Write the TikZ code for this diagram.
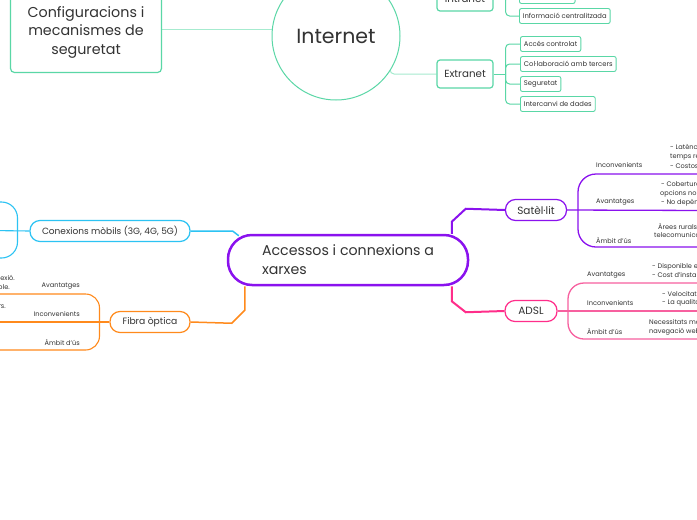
\documentclass[tikz,border=0pt]{standalone}
\usepackage{fontspec}
\setmainfont{Poppins}
\usetikzlibrary{backgrounds}
\definecolor{mint}{HTML}{5AD7A6}
\definecolor{mintl}{HTML}{A6EBCF}
\definecolor{purp}{HTML}{8A12EE}
\definecolor{pinkc}{HTML}{FF2E8A}
\definecolor{pinkl}{HTML}{F7609F}
\definecolor{orng}{HTML}{FF8A1C}
\definecolor{cyn}{HTML}{2CC3F3}
\definecolor{txt}{HTML}{333333}
\tikzset{
  every node/.style={text=txt},
  sbox/.style={draw=mint, line width=0.9pt, rounded corners=2pt, fill=white, font=\fontsize{6.8}{8}\selectfont, inner xsep=3.5pt, minimum height=15pt, anchor=west},
  mbox/.style={draw=mint, line width=1.2pt, rounded corners=3pt, fill=white, minimum width=56pt, minimum height=28pt, font=\fontsize{10.3}{12}\selectfont},
  pill/.style={rectangle, rounded corners=10pt, minimum height=21pt, line width=1.2pt, fill=white, font=\fontsize{10.5}{12}\selectfont, inner xsep=0pt},
  lbl/.style={font=\fontsize{6.6}{8}\selectfont, inner sep=0pt},
  gline/.style={draw=mint, line width=1pt, rounded corners=4pt},
  conn/.style={draw=mintl, line width=1pt},
}
\begin{document}
\begin{tikzpicture}[x=1pt,y=-1pt]
\useasboundingbox (0,0) rectangle (697,520);
\clip (0,0) rectangle (697,520);

% ---- Internet part ----
\node[draw=mint, line width=1.2pt, rounded corners=4pt, fill=white, minimum width=151pt, minimum height=81pt, align=center, font=\fontsize{14.3}{18.5}\selectfont] (cfg) at (86,32) {Configuracions i\\mecanismes de\\seguretat};
\node[circle, draw=mint, line width=1pt, fill=white, minimum size=128pt, font=\fontsize{20.5}{24}\selectfont] (internet) at (336,36) {Internet};
\node[mbox, minimum height=24pt] (intranet) at (465,-1) {Intranet};
\node[mbox] (extranet) at (465,74) {Extranet};

\node[sbox] (in2) at (519,-4) {Seguretat alta};
\node[sbox] (in3) at (519,16) {Informació centralitzada};

\node[sbox] (ex1) at (520,44) {Accés controlat};
\node[sbox] (ex2) at (520,64) {Col·laboració amb tercers};
\node[sbox] (ex3) at (520,84) {Seguretat};
\node[sbox] (ex4) at (520,104) {Intercanvi de dades};

% ---- central ----
\node[draw=purp, line width=2.5pt, fill=white, rounded corners=24pt, minimum width=240pt, minimum height=50pt, align=left, font=\fontsize{14.2}{19}\selectfont] (central) at (348,260) {Accessos i connexions a\\xarxes};

\node[pill, draw=purp, minimum width=61pt] (sat) at (536,210) {Satèl·lit};
\node[pill, draw=pinkc, minimum width=52pt] (adsl) at (531,311) {ADSL};
\node[pill, draw=cyn, minimum width=160pt, font=\fontsize{9}{11}\selectfont] (mob) at (110,231) {Conexions mòbils (3G, 4G, 5G)};
\node[pill, draw=orng, minimum width=80pt, font=\fontsize{9.2}{11}\selectfont] (fib) at (150,322) {Fibra òptica};

% ---- Satel.lit details ----
\node[lbl, anchor=west] at (596,165.5) {Inconvenients};
\node[lbl, anchor=west] at (596,202.5) {Avantatges};
\node[lbl, anchor=west] at (596,240) {Àmbit d'ús};
\node[lbl, anchor=west] at (670,147.5) {- Latència elevada, no apta per a};
\node[lbl, anchor=west] at (670,157) {temps real.};
\node[lbl, anchor=west] at (670,166) {- Costos elevats.};
\node[lbl, anchor=west] at (661,184.5) {- Cobertura global, fins i tot sense};
\node[lbl, anchor=west] at (660,193.5) {opcions no satel·litàries.};
\node[lbl, anchor=west] at (661,203) {- No depèn d'infraestructura terrestre.};
\node[lbl, anchor=west] at (658,226) {Àrees rurals o remotes sense};
\node[lbl, anchor=west] at (654,235.5) {telecomunicacions.};

% ---- ADSL details ----
\node[lbl, anchor=west] at (587,275) {Avantatges};
\node[lbl, anchor=west] at (587,303) {Inconvenients};
\node[lbl, anchor=west] at (587,331) {Àmbit d'ús};
\node[lbl, anchor=west] at (652,266.5) {- Disponible en moltes zones.};
\node[lbl, anchor=west] at (652,275) {- Cost d'instal·lació baix.};
\node[lbl, anchor=west] at (662,294) {- Velocitat limitada.};
\node[lbl, anchor=west] at (662,303) {- La qualitat depèn de la distància.};
\node[lbl, anchor=west] at (649,322.5) {Necessitats moderades com la};
\node[lbl, anchor=west] at (649,331.5) {navegació web i el correu.};

% ---- Fibra details ----
\node[lbl, anchor=east] at (80,286.5) {Avantatges};
\node[lbl, anchor=east] at (80,314.5) {Inconvenients};
\node[lbl, anchor=east] at (80,342.5) {Àmbit d'ús};
\node[lbl, anchor=east] at (15,277.5) {- Alta velocitat de connexió.};
\node[lbl, anchor=east] at (10,287) {- Molt estable.};
\node[lbl, anchor=east] at (6,306.5) {- Cost elevat en alguns sectors.};

% ---- free ends ----
\coordinate (sa1) at (705,174); \coordinate (sa2) at (705,210.5); \coordinate (sa3) at (705,247);
\coordinate (ad1) at (705,283); \coordinate (ad2) at (705,311); \coordinate (ad3) at (705,339);
\coordinate (fb1) at (-10,294); \coordinate (fb2) at (-10,322); \coordinate (fb3) at (-10,350);
\coordinate (mb1) at (-10,202); \coordinate (mb2) at (-10,230.5); \coordinate (mb3) at (-10,258);
\coordinate (in1) at (505,-20);

\begin{pgfonlayer}{background}
  \fill[white] (0,0) rectangle (697,520);
  \draw[conn] (cfg.east |- 0,29) -- (internet.west |- 0,29);
  \draw[conn, rounded corners=4pt] (internet.-33) |- (extranet.west);
  % intranet children
  \draw[gline] (intranet.east) -- ++(12,0) coordinate (ib);
  \draw[gline] (ib) |- (in2.west);
  \draw[gline] (ib) |- (in3.west);
  \draw[gline] (ib) -- (in1);
  % extranet children
  \draw[gline] (extranet.east) -- ++(12,0) coordinate (eb);
  \draw[gline] (eb) |- (ex1.west);
  \draw[gline] (eb) |- (ex2.west);
  \draw[gline] (eb) |- (ex3.west);
  \draw[gline] (eb) |- (ex4.west);

  % central connectors
  \draw[purp, line width=2pt] ([xshift=-17.5pt]central.north east) -- ++(0,-12) -- ++(14,-13) -- (sat.west);
  \draw[pinkc, line width=2pt] ([xshift=-17.5pt]central.south east) -- ++(0,15) -- ++(14,11) -- (adsl.west);
  \draw[cyn, line width=1.5pt] (mob.east) -- ++(42,0) -- ([xshift=12pt,yshift=-2pt]central.north west);
  \draw[orng, line width=1.5pt] ([xshift=18pt]central.south west) -- ++(0,24) -- ++(-13,13) -- (fib.east);

  % braces
  \draw[purp, line width=1.3pt] (sat.east) -- (sa2);
  \draw[purp, line width=1.3pt, rounded corners=18pt] (sa1) -- (578,174) -- (578,247) -- (sa3);
  \draw[pinkl, line width=1.3pt] (adsl.east) -- (ad2);
  \draw[pinkl, line width=1.3pt, rounded corners=16pt] (ad1) -- (568,283) -- (568,339) -- (ad3);
  \draw[orng, line width=1.1pt] (fib.west) -- (fb2);
  \draw[orng, line width=1.1pt, rounded corners=14pt] (fb1) -- (99.5,294) -- (99.5,350) -- (fb3);
  \draw[cyn, line width=1.1pt] (mob.west) -- (mb2);
  \draw[cyn, line width=1.1pt, rounded corners=16pt] (mb1) -- (17.5,202) -- (17.5,258) -- (mb3);
\end{pgfonlayer}
\end{tikzpicture}
\end{document}
